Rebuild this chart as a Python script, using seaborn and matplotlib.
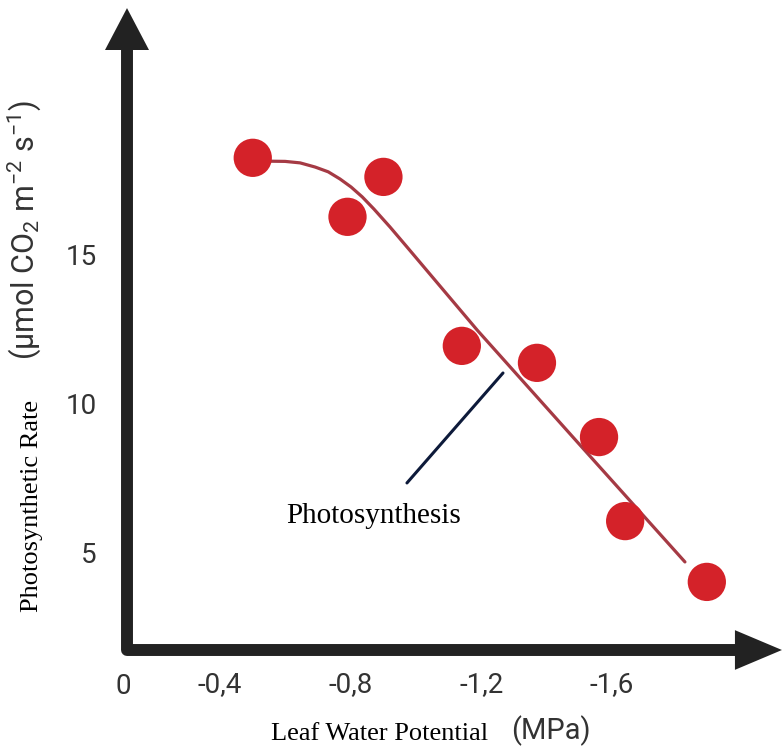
import numpy as np
import matplotlib
matplotlib.use("Agg")
import matplotlib.pyplot as plt
import pandas as pd
import seaborn as sns
from matplotlib.patches import Polygon

sns.set_theme(style="white")
plt.rcParams['font.family'] = ['Roboto', 'DejaVu Sans']
plt.rcParams['mathtext.fontset'] = 'custom'
plt.rcParams['mathtext.rm'] = 'Roboto'
plt.rcParams['mathtext.default'] = 'regular'

# measured points (leaf water potential, photosynthetic rate)
potential = [-0.50, -0.79, -0.90, -1.14, -1.37, -1.56, -1.64, -1.89]
rate = [18.26, 16.28, 17.62, 11.95, 11.38, 8.89, 6.07, 4.03]

# fitted curve
curve_x = [-0.529, -0.599, -0.645, -0.691, -0.731, -0.767, -0.801, -0.835,
           -0.871, -0.920, -0.972, -1.187, -1.502, -1.823]
curve_y = [18.15, 18.14, 18.09, 17.95, 17.79, 17.55, 17.28, 16.95,
           16.54, 15.94, 15.27, 12.48, 8.62, 4.70]

xticks = [-0.4, -0.8, -1.2, -1.6]
xticklabels = ["-0,4", "-0,8", "-1,2", "-1,6"]
yticks = [5, 10, 15]

W, H = 782, 749
fig = plt.figure(figsize=(W / 100, H / 100), dpi=100)
x0, y0 = 127, 650
ax = fig.add_axes([x0 / W, (H - y0) / H, (780 - x0) / W, (y0 - 10) / H])

df_pts = pd.DataFrame({"x": potential, "y": rate})
df_fit = pd.DataFrame({"x": curve_x, "y": curve_y})

sns.lineplot(data=df_fit, x="x", y="y", sort=False, estimator=None,
             color="#a53a44", linewidth=2.3, ax=ax, zorder=2)
sns.scatterplot(data=df_pts, x="x", y="y", s=760, color="#d42229",
                edgecolor="none", ax=ax, zorder=3)

ax.set_xlim(-0.115, -2.114)
ax.set_ylim(1.745, 23.22)
ax.set_xticks(xticks)
ax.set_xticklabels(xticklabels)
ax.set_yticks(yticks)
ax.tick_params(axis="both", length=0, labelsize=20, labelcolor="#333333")
ax.tick_params(axis="x", pad=15)
ax.tick_params(axis="y", pad=22)
ax.set_xlabel("")
ax.set_ylabel("")
for s in ax.spines.values():
    s.set_visible(False)
ax.set_facecolor("white")
ax.grid(False)

# thick arrow axes
axc = "#222222"
ax.plot([0, 0, 0.94], [0.95, 0, 0], transform=ax.transAxes, color=axc,
        lw=8.6, solid_joinstyle="round", solid_capstyle="butt", clip_on=False, zorder=5)
ax.add_patch(Polygon([[-0.0337, 0.9375], [0.0337, 0.9375], [0, 1.003]],
                     closed=True, transform=ax.transAxes, color=axc, lw=0,
                     clip_on=False, zorder=5))
ax.add_patch(Polygon([[0.931, -0.031], [0.931, 0.031], [1.003, 0]],
                     closed=True, transform=ax.transAxes, color=axc, lw=0,
                     clip_on=False, zorder=5))
ax.text(-0.005, -0.057, "0", transform=ax.transAxes, ha="center", va="center",
        fontsize=20, color="#333333")

# annotation
ax.plot([-0.972, -1.266], [7.35, 11.04], color="#0d1a3a", lw=2.2, zorder=1)
ax.text(-0.87, 6.25, "Photosynthesis", family="Liberation Serif", fontsize=21,
        color="black", ha="center", va="center")

# axis titles
fig.text(380 / W, 1 - 734 / H, "Leaf Water Potential", family="Liberation Serif",
         fontsize=19, color="black", ha="center", va="center")
fig.text(551 / W, 1 - 731 / H, "(MPa)", fontsize=21, color="#333333",
         ha="center", va="center")
fig.text(32 / W, 1 - 506 / H, "Photosynthetic Rate", family="Liberation Serif",
         fontsize=19, color="black", ha="center", va="center", rotation=90)
fig.text(24 / W, 1 - 230 / H, r"(µmol CO$_2$ m$^{-2}$ s$^{-1}$)", fontsize=22,
         color="#333333", ha="center", va="center", rotation=90)

fig.savefig("out.png", dpi=100, facecolor="white")
